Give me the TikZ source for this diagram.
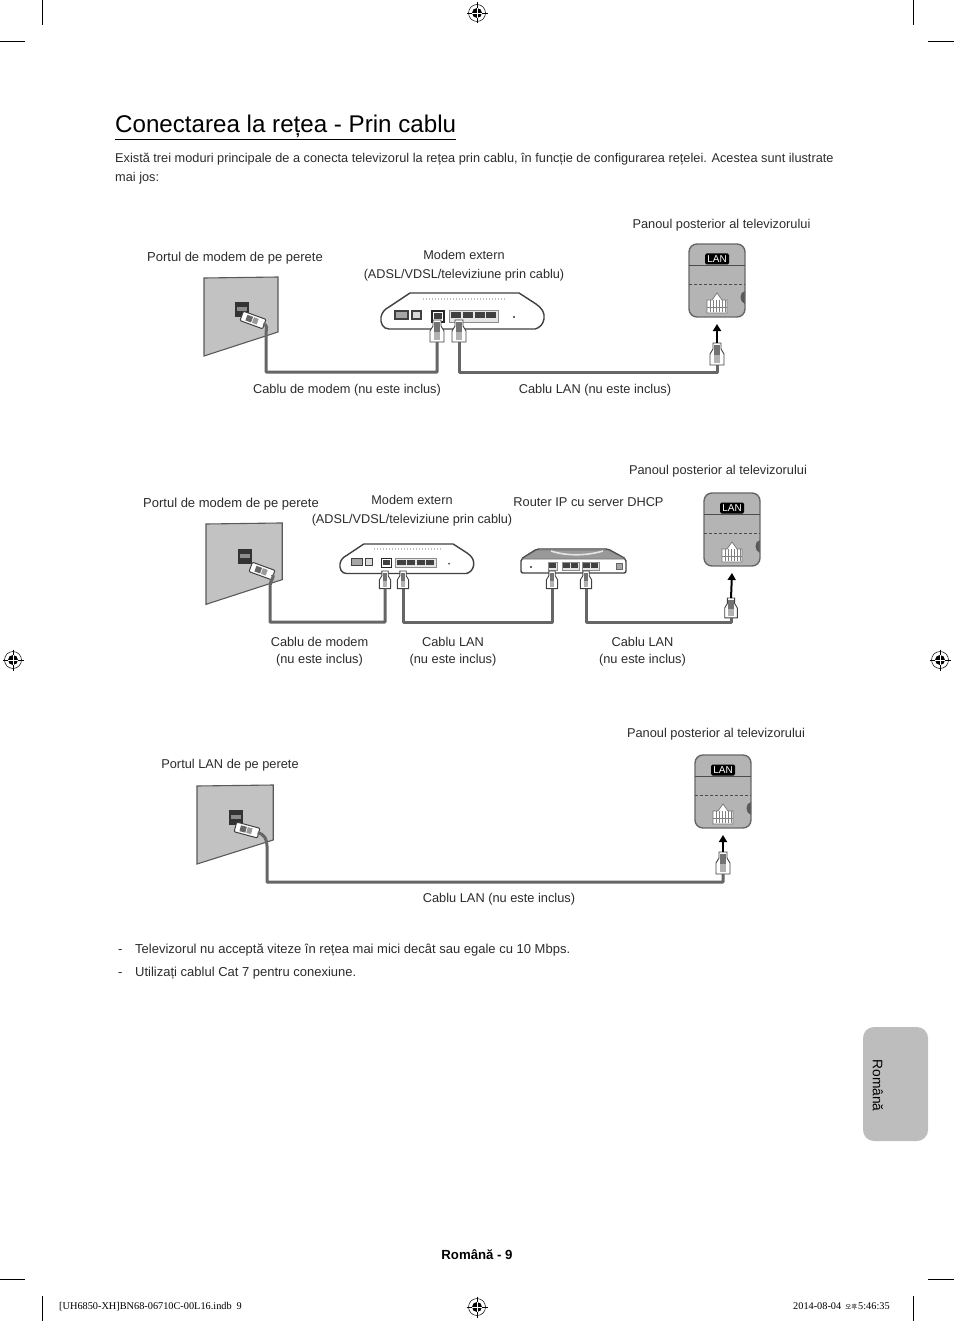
\documentclass[tikz,border=0pt]{standalone}
\usepackage{fontspec}
\setmainfont{Liberation Sans}
\newfontfamily\footfont{Liberation Serif}
\newfontfamily\krfont{Noto Sans CJK KR}
\usepackage{tikz}
\usetikzlibrary{arrows.meta, calc}

\definecolor{inkgray}{HTML}{2B2B2B}
\definecolor{wallgray}{HTML}{C2C2C2}
\definecolor{panelgray}{HTML}{B4B4B4}
\definecolor{wiregray}{HTML}{666666}
\definecolor{tabgray}{HTML}{BDBDBD}

\tikzset{
    lbl/.style={inner sep=0pt, yshift=-1.5pt, align=center, text=inkgray, font=\fontsize{12.8}{17}\selectfont},
    lblwide/.style={lbl, font=\fontsize{12.7}{19}\selectfont},
    bodytext/.style={inner sep=0pt, anchor=base west, align=left, text=inkgray, font=\fontsize{13}{19}\selectfont},
    foottext/.style={inner sep=0pt, anchor=base west, font=\fontsize{10.3}{12}\footfont},
    cable/.style={draw=wiregray, line width=3pt, line join=round},
    uparrow/.style={-{Triangle[length=7pt, width=8pt]}, line width=2pt, black},
    outline/.style={draw=black!75, line width=1.1pt},
    cropline/.style={black, line width=0.8pt},
    portcell/.style={fill=black!75},
    % wall socket
    pics/wallport/.style={code={
        \draw[draw=black!65, fill=wallgray, line width=1.1pt] (0,0) -- (74,-1) -- (74,54) -- (0,78) -- cycle;
        \fill[black!80] (31,24) rectangle (45,39);
        \fill[black!45] (33,29) rectangle (43,33);
    }},
    % plug going into the wall, origin at its middle
    pics/plugw/.style={code={
        \draw[outline, fill=white, rounded corners=1pt, line width=1pt] (-12,-5) rectangle (12,5);
        \fill[black!60] (-7,-3) rectangle (-1,3);
        \fill[black!40] (0,-3) rectangle (5,3);
        \coordinate (-out) at (11,0);
    }},
    % modem front
    pics/modembox/.style={code={
        \draw[outline, fill=white, line width=1.4pt] (8,36) .. controls (2,36) and (-1,30) .. (0,24)
            .. controls (1,19) and (4,16) .. (8,14) -- (29,0) -- (138,0) -- (155,11)
            .. controls (161,15) and (164,20) .. (163,26) .. controls (162,32) and (158,35) .. (154,36) -- cycle;
        \draw[black!25, dashed, line width=2pt, dash pattern=on 1pt off 2pt] (42,6) -- (125,6);
        \draw[outline, fill=black!35] (14,18) rectangle (27,26);
        \draw[outline, fill=black!15] (31,18) rectangle (40,26);
        \draw[black!85, line width=1.2pt] (51,18) rectangle (63,29);
        \fill[portcell] (53,20) rectangle (61,26);
        \draw[black!45, fill=black!10, line width=0.8pt] (68,17) rectangle (117,29);
        \foreach \px in {70,82,94,105} \fill[portcell] (\px,19) rectangle +(10,6);
        \fill[black!80] (133,24) circle[radius=1.2];
    }},
    % router front
    pics/routerbox/.style={code={
        \draw[outline, fill=white, line width=1.4pt, rounded corners=2pt] (0,10) -- (16,0) -- (87,0) -- (105,10) -- (105,24) -- (0,24) -- cycle;
        \draw[black!55, fill=black!40, line width=0.6pt] (1,10) -- (16,1) -- (87,1) -- (104,10) -- cycle;
        \draw[black!10, line width=1.6pt] (30,2) .. controls (45,7) and (65,7) .. (82,2);
        \draw[black!45, fill=black!10, line width=0.6pt] (27,13) rectangle (36,21);
        \draw[black!45, fill=black!10, line width=0.6pt] (41,13) rectangle (58,21);
        \draw[black!45, fill=black!10, line width=0.6pt] (61,13) rectangle (78,21);
        \foreach \px in {28,42,50,62,70} \fill[portcell] (\px,14) rectangle +(7,5);
        \draw[black!60, fill=black!35, line width=0.6pt] (95,14) rectangle (101,20);
        \fill[black!80] (10,18) circle[radius=1.2];
    }},
    % plug seen from the side, origin at its head
    pics/plugv/.style={code={
        \draw[outline, fill=white, line width=0.9pt] (-4,0) -- (4,0) -- (4,6) -- (7,11) -- (7,22) -- (-7,22) -- (-7,11) -- (-4,6) -- cycle;
        \fill[black!55] (-3,2) rectangle (3,12);
        \fill[black!30] (-3,12) rectangle (3,20);
        \coordinate (-top) at (0,0);
        \coordinate (-out) at (0,22);
    }},
    % tv back panel
    pics/tvpanel/.style={code={
        \begin{scope}
            \clip[rounded corners=8pt] (0,0) rectangle (56,73);
            \fill[panelgray] (0,0) rectangle (56,73);
            \fill[black!65] (56,47) .. controls (50,48) and (50,58) .. (56,60) -- cycle;
        \end{scope}
        \draw[draw=black!60, line width=1.4pt, rounded corners=8pt] (0,0) rectangle (56,73);
        \draw[black!70, line width=0.8pt] (0,21) -- (56,21);
        \draw[black!70, line width=0.8pt, densely dashed] (0,40) -- (56,40);
        \node[fill=black, text=white, rounded corners=1.5pt, inner sep=0pt, minimum width=24pt, minimum height=11pt, font=\fontsize{10}{10}\selectfont] (-tag) at (28,15) {LAN};
        \draw[black!55, fill=white, line width=0.7pt] (18,69) -- (18,56) -- (23,56) -- (28,49) -- (33,56) -- (38,56) -- (38,69) -- cycle;
        \foreach \px in {21,24,27,30,33,36} \draw[black!50, line width=0.5pt] (\px,56) -- (\px,68);
        \draw[black!50, line width=0.5pt] (18,63) -- (38,63);
        \coordinate (-tip) at (28,80);
    }},
    % registration mark
    pics/regmark/.style={code={
        \draw[black, line width=0.5pt] (0,0) circle[radius=8.5];
        \fill[black] (0,0) circle[radius=5];
        \draw[black, line width=0.6pt] (-10.5,0) -- (10.5,0) (0,-10.5) -- (0,10.5);
        \draw[white, line width=0.7pt] (-5,0) -- (5,0) (0,-5) -- (0,5);
    }}
}

\begin{document}
\begin{tikzpicture}[x=1pt, y=-1pt]
\useasboundingbox (0,0) rectangle (954,1321);

% Heading
\node[inner sep=0pt, anchor=base west, text=black, font=\fontsize{24.15}{30}\selectfont] (title) at (115,133) {Conectarea la rețea - Prin cablu};
\coordinate (ruleL) at (115,139);
\coordinate (ruleR) at (456,139);
\draw[black, line width=0.7pt] (ruleL) -- (ruleR);
\node[bodytext, font=\fontsize{12.75}{19}\selectfont] (intro) at (115,182) {Există trei moduri principale de a conecta televizorul la rețea prin cablu, în funcție de configurarea rețelei. Acestea sunt ilustrate\\mai jos:};

% First setup
\pic (wallA) at (204,278) {wallport};
\pic (modemA) at (381,293) {modembox};
\pic (panelA) at (689,244) {tvpanel};
\pic[rotate=-20] (plugW) at (253,320) {plugw};
\pic (plugA) at (437,320) {plugv};
\pic (plugB) at (459,320) {plugv};
\pic (plugC) at (717,343) {plugv};
\coordinate (dropA) at (266,334);
\coordinate (busA) at (350,372);
\coordinate (busB) at (590,372);
\draw[cable] (plugW-out) .. controls +(5,2) and +(0,-6) .. (dropA) |- (busA) -| (plugA-out);
\draw[cable] (plugB-out) |- (busB) -| (plugC-out);
\draw[uparrow] (plugC-top) -- (panelA-tip);

\node[lbl] (panelAlbl) at (721.5,224) {Panoul posterior al televizorului};
\node[lbl, font=\fontsize{13}{17}\selectfont] (wallAlbl) at (235,257) {Portul de modem de pe perete};
\node[lblwide] (modemAlbl) at (464,264) {Modem extern\\(ADSL/VDSL/televiziune prin cablu)};
\node[lbl] (cableAlbl) at (347,389) {Cablu de modem (nu este inclus)};
\node[lbl] (cableBlbl) at (595,389) {Cablu LAN (nu este inclus)};

% Second setup
\pic[scale=1.03] (wallB) at (206,524) {wallport};
\pic[scale=0.82] (modemB) at (340,544) {modembox};
\pic (routerB) at (521,549) {routerbox};
\pic (panelB) at (704,493) {tvpanel};
\pic[rotate=-20] (plugX) at (262,571) {plugw};
\pic[scale=0.8] (plugD) at (385,571) {plugv};
\pic[scale=0.8] (plugE) at (403,571) {plugv};
\pic[scale=0.8] (plugF) at (552,571) {plugv};
\pic[scale=0.8] (plugG) at (586,571) {plugv};
\pic[scale=0.9] (plugH) at (731,598) {plugv};
\coordinate (dropB) at (270,586);
\coordinate (busC) at (330,622);
\coordinate (busD) at (480,622);
\coordinate (busE) at (660,622);
\draw[cable] (plugX-out) .. controls +(3,2) and +(0,-6) .. (dropB) |- (busC) -| (plugD-out);
\draw[cable] (plugE-out) |- (busD) -| (plugF-out);
\draw[cable] (plugG-out) |- (busE) -| (plugH-out);
\draw[uparrow] (plugH-top) -- (panelB-tip);

\node[lbl] (panelBlbl) at (718,470) {Panoul posterior al televizorului};
\node[lbl, font=\fontsize{13}{17}\selectfont] (wallBlbl) at (231,503) {Portul de modem de pe perete};
\node[lblwide] (modemBlbl) at (412,509) {Modem extern\\(ADSL/VDSL/televiziune prin cablu)};
\node[lbl] (routerBlbl) at (588.5,501) {Router IP cu server DHCP};
\node[lbl] (cableClbl) at (319.5,650) {Cablu de modem\\(nu este inclus)};
\node[lbl] (cableDlbl) at (453,650) {Cablu LAN\\(nu este inclus)};
\node[lbl] (cableElbl) at (642.5,650) {Cablu LAN\\(nu este inclus)};

% Third setup
\pic[xscale=1.03] (wallC) at (197,786) {wallport};
\pic (panelC) at (695,755) {tvpanel};
\pic[rotate=-15] (plugY) at (247,830) {plugw};
\pic (plugJ) at (723,852) {plugv};
\coordinate (dropC) at (267,846);
\coordinate (busF) at (500,882);
\draw[cable] (plugY-out) .. controls +(7,1) and +(0,-6) .. (dropC) |- (busF) -| (plugJ-out);
\draw[uparrow] (plugJ-top) -- (panelC-tip);

\node[lbl] (panelClbl) at (716,733) {Panoul posterior al televizorului};
\node[lbl] (wallClbl) at (230,764) {Portul LAN de pe perete};
\node[lbl] (cableFlbl) at (499,898) {Cablu LAN (nu este inclus)};

% Notes
\node[bodytext] (dashA) at (118,953) {-};
\node[bodytext] (noteA) at (135,953) {Televizorul nu acceptă viteze în rețea mai mici decât sau egale cu 10 Mbps.};
\node[bodytext] (dashB) at (118,976) {-};
\node[bodytext] (noteB) at (135,976) {Utilizați cablul Cat 7 pentru conexiune.};

% Side tab and page number
\fill[tabgray, rounded corners=11pt] (863,1027) rectangle (928,1141);
\node[lbl, rotate=-90, text=black, font=\fontsize{13.8}{17}\selectfont] (tabtext) at (878,1084) {Română};
\node[lbl, text=black, yshift=1.5pt, font=\fontsize{13.2}{17}\bfseries\selectfont] (pagenum) at (477,1255) {Română - 9};

% Print marks
\pic at (477,13) {regmark};
\pic at (13,660) {regmark};
\pic at (940,660) {regmark};
\pic at (477,1307) {regmark};
\draw[cropline] (42,0) -- (42,25) (913,0) -- (913,25) (0,41) -- (25,41) (928,41) -- (954,41);
\draw[cropline] (42,1296) -- (42,1321) (913,1296) -- (913,1321) (0,1279) -- (25,1279) (928,1279) -- (954,1279);
\node[foottext] (footL) at (59,1309) {[UH6850-XH]BN68-06710C-00L16.indb\hspace{5pt}9};
\node[foottext] (footR) at (793,1309) {2014-08-04\hspace{4pt}{\krfont\fontsize{6.5}{8}\selectfont 오후}\hspace{1pt}5:46:35};

\end{tikzpicture}
\end{document}
